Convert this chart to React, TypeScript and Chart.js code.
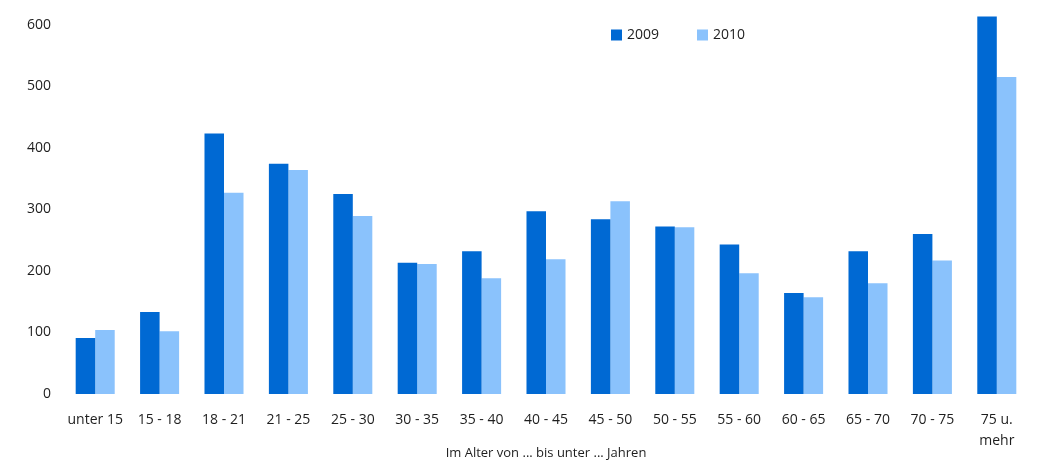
import React, { useEffect, useRef } from "react";
import { Chart, registerables } from "chart.js";

Chart.register(...registerables);

const categories: (string | string[])[] = [
  "unter 15", "15 - 18", "18 - 21", "21 - 25", "25 - 30", "30 - 35", "35 - 40",
  "40 - 45", "45 - 50", "50 - 55", "55 - 60", "60 - 65", "65 - 70", "70 - 75", ["75 u.", "mehr"],
];
const values2009 = [91, 133, 423, 374, 325, 213, 232, 297, 284, 272, 243, 164, 232, 260, 613];
const values2010 = [104, 102, 327, 364, 289, 211, 188, 219, 313, 271, 196, 157, 180, 217, 515];
const seriesLabels = ["2009", "2010"];
const seriesColors = ["#0069d3", "#8ac2fc"];
const yTicks = [0, 100, 200, 300, 400, 500, 600];
const xTitle = "Im Alter von ... bis unter ... Jahren";

const FONT = "'Open Sans', sans-serif";
const TEXT = "#1e1e1e";

const legendPlugin = {
  id: "customLegend",
  afterDraw(chart: any) {
    const ctx = chart.ctx;
    const ca = chart.chartArea;
    ctx.save();
    ctx.font = `14px ${FONT}`;
    ctx.textBaseline = "middle";
    ctx.textAlign = "left";
    const y = 35;
    let x = ca.left + 548;
    chart.data.datasets.forEach((ds: any) => {
      ctx.fillStyle = ds.backgroundColor;
      ctx.fillRect(x, y - 5.5, 11, 11);
      ctx.fillStyle = TEXT;
      ctx.fillText(ds.label, x + 16, y);
      x += 86;
    });
    ctx.restore();
  },
};

export default function App() {
  const ref = useRef<HTMLCanvasElement>(null);
  useEffect(() => {
    if (!ref.current) return;
    const chart = new Chart(ref.current, {
      type: "bar",
      data: {
        labels: categories,
        datasets: [
          { label: seriesLabels[0], data: values2009, backgroundColor: seriesColors[0], borderWidth: 0 },
          { label: seriesLabels[1], data: values2010, backgroundColor: seriesColors[1], borderWidth: 0 },
        ],
      },
      options: {
        responsive: false,
        animation: false,
        layout: { padding: { left: 0, right: 10, top: 0, bottom: 0 } },
        plugins: {
          legend: { display: false },
          tooltip: { enabled: false },
        },
        datasets: { bar: { categoryPercentage: 0.606, barPercentage: 1.0 } },
        scales: {
          x: {
            grid: { display: false, drawTicks: false },
            border: { display: false },
            ticks: {
              color: TEXT,
              font: { family: FONT, size: 14, lineHeight: 1.5 },
              padding: 16,
              maxRotation: 0,
              autoSkip: false,
            },
            title: {
              display: true,
              text: xTitle,
              color: TEXT,
              font: { family: FONT, size: 13 },
              padding: { top: 0, bottom: 12 },
            },
            afterFit: (s: any) => { s.height = 79; },
          },
          y: {
            min: 0,
            max: 640,
            grid: { display: false, drawTicks: false },
            border: { display: false },
            ticks: {
              color: TEXT,
              font: { family: FONT, size: 14 },
              padding: 12,
              stepSize: 100,
            },
            afterBuildTicks: (s: any) => {
              s.ticks = yTicks.map((v) => ({ value: v }));
            },
            afterFit: (s: any) => { s.width = 63; s.paddingTop = 0; s.paddingBottom = 0; },
          },
        },
      },
      plugins: [legendPlugin],
    });
    return () => chart.destroy();
  }, []);
  return (
    <div style={{ position: "absolute", left: 0, top: 0, width: 1039, height: 473, background: "#fff" }}>
      <canvas ref={ref} width={1039} height={473} />
    </div>
  );
}
